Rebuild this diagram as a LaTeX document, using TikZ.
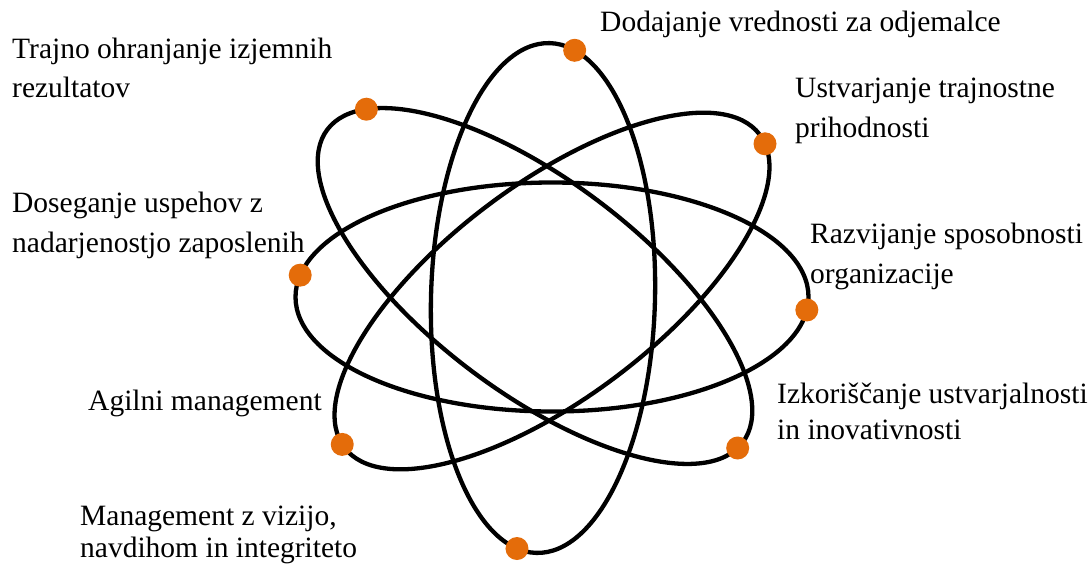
\documentclass[tikz,border=0pt]{standalone}
\usepackage{fontspec}
\setmainfont{Liberation Serif}
\definecolor{dotorange}{HTML}{E46C0A}
\tikzset{
  orbit/.style={line width=4.3pt, draw=black},
  atomdot/.style={circle, fill=dotorange, draw=none, inner sep=0pt, minimum size=23pt},
  lbl/.style={anchor=base west, align=left, inner sep=0pt, font=\fontsize{29.5}{38}\selectfont},
}
\begin{document}
\begin{tikzpicture}[x=1pt,y=-1pt]
\useasboundingbox (0,0) rectangle (1090,563);
% vertical orbit
\begin{scope}[shift={(543,298)}, rotate=-1.5]
  \draw[orbit] (0,0) ellipse [x radius=112, y radius=255];
  \coordinate (p1) at ({112*cos(283)},{255*sin(283)});
  \coordinate (p8) at ({112*cos(100)},{255*sin(100)});
\end{scope}
% horizontal orbit
\begin{scope}[shift={(552,297)}]
  \draw[orbit] (0,0) ellipse [x radius=256.5, y radius=114.5];
  \coordinate (p4) at ({256.5*cos(191)},{114.5*sin(191)});
  \coordinate (p5) at ({256.5*cos(6.5)},{114.5*sin(6.5)});
\end{scope}
% diagonal orbit, upper left to lower right
\begin{scope}[shift={(535,286)}, rotate=-37]
  \draw[orbit] (0,0) ellipse [x radius=260, y radius=106];
  \coordinate (p2) at ({260*cos(202)},{106*sin(202)});
  \coordinate (p7) at ({260*cos(4)},{106*sin(4)});
\end{scope}
% diagonal orbit, upper right to lower left
\begin{scope}[shift={(552,291)}, rotate=37]
  \draw[orbit] (0,0) ellipse [x radius=260, y radius=107];
  \coordinate (p3) at ({260*cos(5.7)},{107*sin(5.7)});
  \coordinate (p6) at ({260*cos(182)},{107*sin(182)});
\end{scope}
% dots
\foreach \i in {1,...,8} { \node[atomdot] (d\i) at (p\i) {}; }
% labels (base anchor = baseline of the last line)
\node[lbl] (t1) at (12,97) {Trajno ohranjanje izjemnih\\[1pt]rezultatov};
\node[lbl] (t2) at (600,31) {Dodajanje vrednosti za odjemalce};
\node[lbl] (t3) at (795,137) {Ustvarjanje trajnostne\\[2pt]prihodnosti};
\node[lbl] (t4) at (12,252) {Doseganje uspehov z\\[2pt]nadarjenostjo zaposlenih};
\node[lbl] (t5) at (810,283) {Razvijanje sposobnosti\\[2pt]organizacije};
\node[lbl] (t6) at (88,410) {Agilni management};
\node[lbl] (t7) at (777,439) {Izkoriščanje ustvarjalnosti\\[-2pt]in inovativnosti};
\node[lbl] (t8) at (80,557) {Management z vizijo,\\[-6pt]navdihom in integriteto};
\end{tikzpicture}
\end{document}
